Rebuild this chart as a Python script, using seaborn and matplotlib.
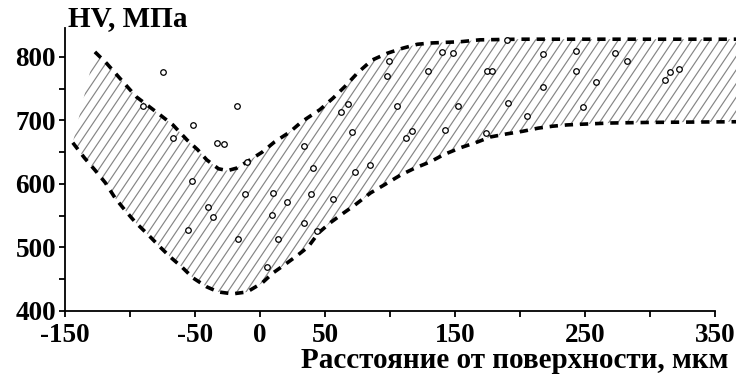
import numpy as np
import pandas as pd
import matplotlib
matplotlib.use("Agg")
import matplotlib.pyplot as plt
from matplotlib.collections import LineCollection
from matplotlib.patches import Polygon
import seaborn as sns

# ---- data ----
upper_x = [-127, -118, -102, -95, -77, -67, -56, -48, -41, -32, -25, -18, -10, 1.5, 11,
           23, 32, 46, 56, 65, 75, 86, 98, 110, 121, 131, 154, 169, 200, 366]
upper_y = [808, 790, 753, 737, 709, 693, 669, 654, 638, 624, 621, 625, 635, 650, 666,
           682, 698, 717, 735, 753, 775, 795, 806, 814, 820, 822, 824, 827, 828, 828]

lower_x = [-144, -135, -127, -119, -111.5, -104, -96, -86, -77, -69, -60, -51.5, -41, -32,
           -21, -10, 1.5, 10, 21, 29, 37, 45, 54, 64, 73, 85, 95, 108, 119, 131, 141,
           154, 167, 177, 190, 202, 214, 225, 236, 246, 269, 300, 366]
lower_y = [665, 641, 622, 602, 578, 559, 540, 520, 501, 485, 469, 452, 438, 430,
           427, 430, 444, 460, 476, 488, 501, 523, 539, 554, 567, 586, 598, 614, 625, 635, 646,
           657, 666, 674, 679, 683, 688, 691, 693, 694, 696, 697, 698]

pts_x = [-74.6, -90, -17.7, -51.5, -66.9, -33.1, -27.7, -10, -52.3, 40.8, -11.5, 10, 20.8,
         39.2, 56.2, -40, -36.2, 9.2, 33.8, -55.4, -16.9, 13.8, 43.8, 5.4, 99.2, 97.7, 140,
         148.5, 129.2, 174.6, 178.5, 67.7, 62.3, 105.4, 152.3, 70.8, 112.3, 116.9, 142.3,
         173.8, 33.8, 73.1, 84.6, 190, 217.7, 243.1, 273.1, 282.3, 243.1, 217.7, 258.5,
         190.8, 205.4, 248.5, 311.5, 315.4, 322.3]
pts_y = [776, 723, 723, 693, 672, 665, 663, 635, 605, 625, 584, 586, 572,
         584, 576, 564, 548, 551, 539, 528, 513, 513, 526, 469, 794, 770, 808,
         806, 778, 778, 778, 726, 713, 723, 723, 682, 672, 684, 685,
         680, 660, 619, 630, 826, 805, 809, 806, 794, 778, 753, 761,
         728, 707, 721, 764, 776, 781]

x_ticks = list(range(-150, 351, 50))
x_labels = ['-150', '', '-50', '0', '50', '', '150', '', '250', '', '350']
y_ticks = list(range(400, 801, 50))
y_labels = ['400', '', '500', '', '600', '', '700', '', '800']

sns.set_style("ticks")
plt.rcParams['font.family'] = ['Liberation Serif', 'DejaVu Serif']
plt.rcParams['font.weight'] = 'bold'

fig = plt.figure(figsize=(7.36, 3.80), dpi=100)
ax = fig.add_axes([65 / 736, 69 / 380, 671 / 736, 282.6 / 380])
ax.set_xlim(-150, 366)
ax.set_ylim(400, 845)

# hatched band
poly_xy = list(zip(upper_x, upper_y)) + list(zip(lower_x[::-1], lower_y[::-1]))
poly = Polygon(poly_xy, closed=True, facecolor='white', edgecolor='none', zorder=1)
ax.add_patch(poly)

W, H = 671.0, 282.6
theta = np.deg2rad(56)
run = H / np.tan(theta)
spacing = 9.2
segs = []
c = -run
while c < W:
    segs.append([(c / W, 0.0), ((c + run) / W, 1.0)])
    c += spacing
lc = LineCollection(segs, colors='#858585', linewidths=0.85, transform=ax.transAxes, zorder=1.5)
ax.add_collection(lc)
lc.set_clip_path(poly)

# dashed boundaries
band = pd.DataFrame({'x': upper_x, 'y': upper_y})
band_low = pd.DataFrame({'x': lower_x, 'y': lower_y})
for df in (band, band_low):
    sns.lineplot(data=df, x='x', y='y', ax=ax, color='black', linewidth=2.6,
                 sort=False, estimator=None, zorder=3, clip_on=False)
for ln in ax.get_lines():
    ln.set_dashes((2.3, 1.9))

# measurement points
pts = pd.DataFrame({'x': pts_x, 'y': pts_y})
sns.scatterplot(data=pts, x='x', y='y', ax=ax, marker='o', s=16, facecolor='white',
                edgecolor='black', linewidth=0.9, zorder=4)

sns.despine(ax=ax)
ax.spines['left'].set_bounds(400, 845)
ax.spines['bottom'].set_bounds(-150, 350)
for s in ('left', 'bottom'):
    ax.spines[s].set_linewidth(1.3)
    ax.spines[s].set_color('black')

ax.set_xticks(x_ticks)
ax.set_xticklabels(x_labels)
ax.set_yticks(y_ticks)
ax.set_yticklabels(y_labels)
ax.tick_params(axis='both', direction='out', length=4, width=1.3, color='black',
               labelsize=19.5, labelcolor='black')
ax.tick_params(axis='x', pad=4.5)
ax.tick_params(axis='y', pad=2.5)
for lab in ax.get_xticklabels() + ax.get_yticklabels():
    lab.set_fontweight('bold')
ax.set_xlabel('')
ax.set_ylabel('')

fig.text(68 / 736, 1 - 19 / 380, 'HV, МПа', ha='left', va='center', fontsize=21,
         fontweight='bold', color='black')
fig.text(728 / 736, 1 - 360 / 380, 'Расстояние от поверхности, мкм', ha='right',
         va='center', fontsize=21, fontweight='bold', color='black')

fig.savefig('out.png', dpi=100, facecolor='white')
